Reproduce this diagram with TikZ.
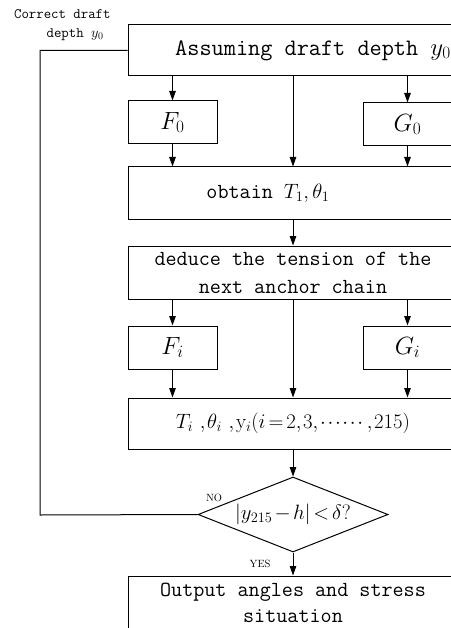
\documentclass[tikz,border=0pt]{standalone}
\usepackage{amsmath}
\usetikzlibrary{arrows.meta,positioning,shapes.geometric}

\begin{document}
\begin{tikzpicture}[
    x=1pt, y=-1pt,
    >={Triangle[length=9.5pt,width=6.5pt]},
    line width=1pt,
    box/.style={draw, inner sep=0pt, align=center, font=\fontsize{21.5}{28}\ttfamily\selectfont},
    mainbox/.style={box, minimum width=330pt, minimum height=52pt},
    sidebox/.style={box, minimum width=89pt, minimum height=43pt, font=\fontsize{23}{28}\selectfont},
    note/.style={inner sep=0pt, font=\fontsize{10.5}{12}\selectfont},
  ]
  \useasboundingbox (0,0) rectangle (450,628);
  \def\fx{172.5}
  \def\gx{407.5}
  \def\tight{\thinmuskip=1.5mu\medmuskip=2mu\thickmuskip=2.5mu}

  % ========= main column =========
  \node[mainbox, minimum height=51pt, font=\fontsize{23.6}{28}\ttfamily\selectfont] (assume) at (293,50.5)
    {\hspace*{40pt}Assuming draft depth $y_0$};

  \node[sidebox] (fzero) at (\fx,122.5) {$F_0$};
  \node[sidebox] (gzero) at (\gx,124.5) {$G_0$};

  \node[mainbox] (obtain) at (293,193) {obtain $T_1,\theta_1$\hspace*{50pt}};

  \node[mainbox, minimum height=53pt] (deduce) at (293,272.5)
    {deduce the tension of the\\next anchor chain};

  \node[sidebox] (fi) at (\fx,347.5) {$F_i$};
  \node[sidebox] (gi) at (\gx,347.5) {$G_i$};

  \node[mainbox, minimum height=51pt, font=\fontsize{22}{28}\selectfont] (tall) at (293,423.5)
    {$\tight T_i\ ,\theta_i\ ,\mathrm{y}_i(i=2,3,\cdots\cdots,215)$};

  % decision
  \node[draw, diamond, aspect=2.53, inner sep=0pt, minimum width=190pt, minimum height=75pt,
        font=\fontsize{21.5}{26}\selectfont] (check) at (293,514.5)
    {$\tight\left|y_{215}-h\right|<\delta?$};

  \node[mainbox, minimum height=53pt, font=\fontsize{21.5}{26}\ttfamily\selectfont] (output) at (293,602.5)
    {Output angles and stress\\situation};

  % ========= arrows =========
  \draw[->] (assume.south -| fzero.north) -- (fzero.north);
  \draw[->] (assume.south) -- (obtain.north);
  \draw[->] (assume.south -| gzero.north) -- (gzero.north);
  \draw[->] (fzero.south) -- (obtain.north -| fzero.south);
  \draw[->] (gzero.south) -- (obtain.north -| gzero.south);

  \draw[->] (obtain.south) -- (deduce.north);

  \draw[->] (deduce.south -| fi.north) -- (fi.north);
  \draw[->] (deduce.south) -- (tall.north);
  \draw[->] (deduce.south -| gi.north) -- (gi.north);
  \draw[->] (fi.south) -- (tall.north -| fi.south);
  \draw[->] (gi.south) -- (tall.north -| gi.south);

  \draw[->] (tall.south) -- (check.north);
  \draw[->] (check.south) -- (output.north);
  \node[note, below left=7pt and 22pt of check.south] (yes) {YES};

  % feedback loop
  \coordinate (back) at (40,515);
  \draw (check.west) -- (back) |- (assume.west);
  \node[note, above right=12pt and 8pt of check.west] (no) {NO};
  \node[inner sep=0pt, anchor=north east, align=right, font=\fontsize{14.4}{19}\ttfamily\selectfont] (corr) at (111,9)
    {Correct draft\\depth $y_0$\hspace*{7pt}};
\end{tikzpicture}
\end{document}
